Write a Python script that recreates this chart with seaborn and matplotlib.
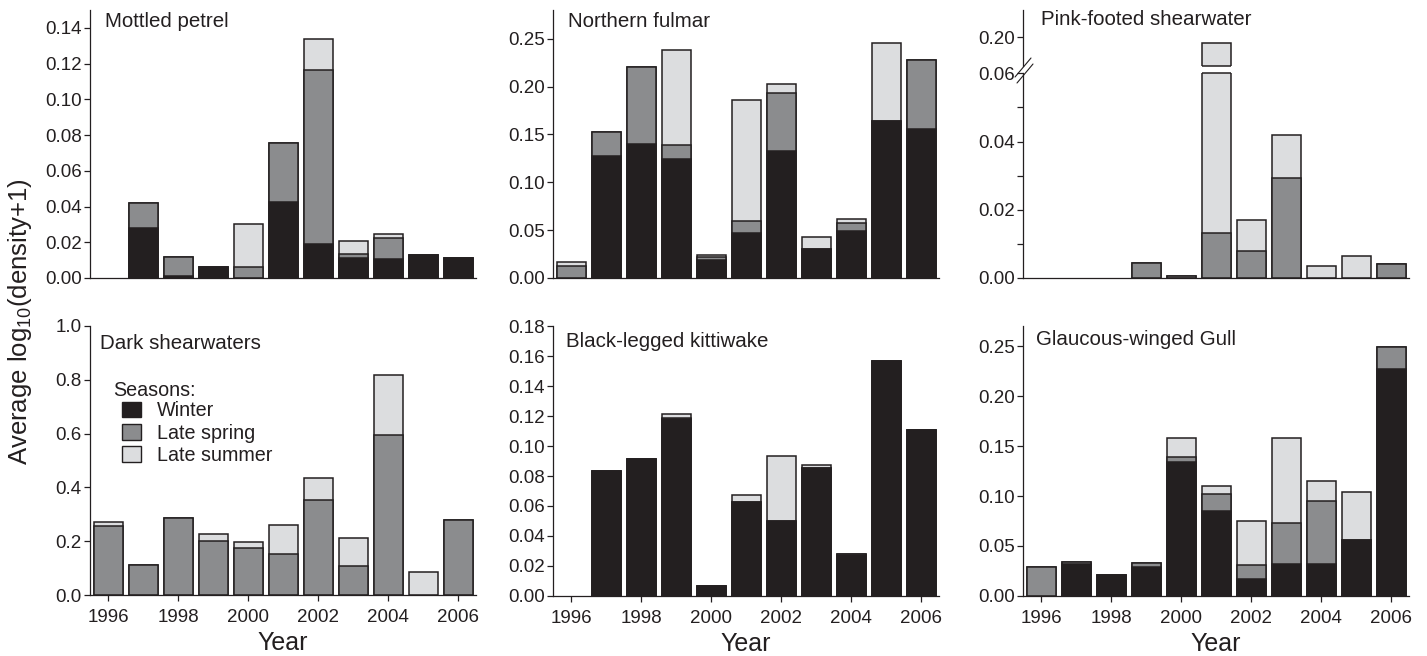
import numpy as np
import seaborn as sns
import matplotlib.pyplot as plt
from matplotlib.lines import Line2D
from matplotlib.patches import Patch

years = [1996, 1997, 1998, 1999, 2000, 2001, 2002, 2003, 2004, 2005, 2006]
year_labels = [str(y) for y in years]

mottled_winter = [0, 0.028, 0.0013, 0.0061, 0, 0.0425, 0.019, 0.011, 0.0104, 0.0127, 0.0112]
mottled_spring = [0, 0.014, 0.0105, 0, 0.0063, 0.033, 0.0974, 0.0026, 0.0119, 0, 0]
mottled_summer = [0, 0, 0, 0, 0.0242, 0, 0.0173, 0.0073, 0.0021, 0, 0]

fulmar_winter = [0, 0.127, 0.140, 0.124, 0.0187, 0.0467, 0.1329, 0.0308, 0.0491, 0.164, 0.156]
fulmar_spring = [0.0128, 0.026, 0.080, 0.015, 0.0031, 0.0132, 0.0601, 0, 0.0083, 0, 0.072]
fulmar_summer = [0.0035, 0, 0, 0.099, 0.0024, 0.1256, 0.010, 0.0125, 0.0045, 0.082, 0]

pink_winter = [0, 0, 0, 0, 0, 0, 0, 0, 0, 0, 0]
pink_spring = [0, 0, 0, 0.0044, 0.0007, 0.0132, 0.008, 0.0293, 0, 0, 0.0042]
pink_summer = [0, 0, 0, 0, 0, 0.185, 0.0089, 0.0127, 0.0035, 0.0065, 0]

dark_winter = [0, 0, 0, 0, 0, 0, 0, 0, 0, 0, 0]
dark_spring = [0.255, 0.112, 0.288, 0.202, 0.175, 0.154, 0.355, 0.106, 0.595, 0, 0.28]
dark_summer = [0.018, 0, 0, 0.025, 0.021, 0.108, 0.081, 0.105, 0.221, 0.085, 0]

kittiwake_winter = [0, 0.0831, 0.0911, 0.118, 0.0064, 0.0627, 0.0498, 0.0851, 0.0276, 0.157, 0.1107]
kittiwake_spring = [0, 0, 0, 0.001, 0, 0, 0, 0, 0.0006, 0, 0]
kittiwake_summer = [0, 0, 0, 0.0026, 0, 0.0049, 0.0433, 0.0022, 0, 0, 0]

gull_winter = [0, 0.032, 0.021, 0.0294, 0.134, 0.0849, 0.0167, 0.0321, 0.0318, 0.0565, 0.227]
gull_spring = [0.029, 0.0018, 0, 0.0034, 0.0047, 0.0174, 0.0144, 0.0414, 0.0628, 0, 0.022]
gull_summer = [0, 0, 0, 0, 0.0191, 0.0073, 0.0441, 0.0845, 0.0207, 0.0474, 0]

season_names = ['Winter', 'Late spring', 'Late summer']
season_colors = ['#231f20', '#8b8c8e', '#dcdddf']
ink = '#231f20'

sns.set_style('ticks')
plt.rcParams['font.family'] = ['Liberation Sans', 'DejaVu Sans']
plt.rcParams['mathtext.default'] = 'regular'
plt.rcParams['axes.edgecolor'] = ink
plt.rcParams['axes.linewidth'] = 0.9
plt.rcParams['xtick.color'] = ink
plt.rcParams['ytick.color'] = ink
plt.rcParams['text.color'] = ink
plt.rcParams['axes.labelcolor'] = ink

W, H = 1427, 656
fig = plt.figure(figsize=(W / 100, H / 100), dpi=100)


def px_axes(left, top, right, bottom):
    return fig.add_axes([left / W, 1 - bottom / H, (right - left) / W, (bottom - top) / H])


def draw_stack(ax, winter, spring, summer):
    w = np.array(winter)
    ws = w + np.array(spring)
    tot = ws + np.array(summer)
    # overlay cumulative bars, tallest first
    for vals, col in [(tot, season_colors[2]), (ws, season_colors[1]), (w, season_colors[0])]:
        sns.barplot(x=year_labels, y=vals, order=year_labels, color=col, saturation=1,
                    width=0.82, edgecolor=ink, linewidth=1.1, errorbar=None, ax=ax)
    # empty bars should leave no outline on the baseline
    for p in ax.patches:
        if p.get_height() == 0:
            p.set_visible(False)
    ax.set_xlim(-0.52, 10.51)
    sns.despine(ax=ax)
    ax.tick_params(axis='y', labelsize=13.5, length=4, width=0.9, pad=2)
    ax.set_xlabel('')
    ax.set_ylabel('')


def add_title(ax, text, dx, dy):
    ax.annotate(text, xy=(0, 1), xycoords='axes fraction', xytext=(dx, -dy),
                textcoords='offset pixels', ha='left', va='top', fontsize=14.8)


def bottom_row(ax):
    ax.set_xticks(range(0, 11, 2))
    ax.set_xticklabels(year_labels[::2])
    ax.tick_params(axis='x', labelsize=13.5, length=4, width=0.9, pad=6)
    ax.set_xlabel('Year', fontsize=18, labelpad=4)


def top_row(ax):
    ax.tick_params(axis='x', bottom=False, labelbottom=False)


lefts = [90, 553, 1023]
width = 386

# Mottled petrel
ax1 = px_axes(lefts[0], 10, lefts[0] + width, 278)
draw_stack(ax1, mottled_winter, mottled_spring, mottled_summer)
ax1.set_ylim(0, 0.15)
ax1.set_yticks(np.arange(0, 0.141, 0.02))
ax1.yaxis.set_major_formatter('{x:.2f}')
top_row(ax1)
add_title(ax1, 'Mottled petrel', 15, 2)

# Northern fulmar
ax2 = px_axes(lefts[1], 10, lefts[1] + width, 278)
draw_stack(ax2, fulmar_winter, fulmar_spring, fulmar_summer)
ax2.set_ylim(0, 0.28)
ax2.set_yticks(np.arange(0, 0.251, 0.05))
ax2.yaxis.set_major_formatter('{x:.2f}')
top_row(ax2)
add_title(ax2, 'Northern fulmar', 15, 2)

# Pink-footed shearwater, broken axis
ax3_hi = px_axes(lefts[2], 10, lefts[2] + width, 66)
ax3 = px_axes(lefts[2], 73, lefts[2] + width, 278)
draw_stack(ax3_hi, pink_winter, pink_spring, pink_summer)
draw_stack(ax3, pink_winter, pink_spring, pink_summer)
ax3_hi.set_ylim(0.1916, 0.208)
ax3_hi.set_yticks([0.20])
ax3_hi.yaxis.set_major_formatter('{x:.2f}')
ax3_hi.spines['bottom'].set_visible(False)
ax3_hi.tick_params(axis='x', bottom=False, labelbottom=False)
ax3.set_ylim(0, 0.0601)
ax3.set_yticks([0, 0.02, 0.04, 0.06])
ax3.set_yticks([0.01, 0.03, 0.05], minor=True)
ax3.tick_params(axis='y', which='minor', length=4, width=0.9)
ax3.yaxis.set_major_formatter('{x:.2f}')
top_row(ax3)
add_title(ax3_hi, 'Pink-footed shearwater', 18, 0)
# edges where the tall bar is cut by the break
lo_top = ax3.get_ylim()[1]
hi_bot = ax3_hi.get_ylim()[0]
for p in ax3.patches:
    if p.get_visible() and p.get_y() + p.get_height() > lo_top:
        ax3.hlines(lo_top, p.get_x(), p.get_x() + p.get_width(), color=ink, lw=1.1, clip_on=False)
for p in ax3_hi.patches:
    if p.get_visible() and p.get_y() + p.get_height() > hi_bot:
        ax3_hi.hlines(hi_bot, p.get_x(), p.get_x() + p.get_width(), color=ink, lw=1.1, clip_on=False)
for (x0, y0, x1, y1) in [(1015, 77, 1031, 58), (1017, 83, 1033, 64)]:
    fig.add_artist(Line2D([x0 / W, x1 / W], [1 - y0 / H, 1 - y1 / H],
                          transform=fig.transFigure, color=ink, lw=0.8))

# Dark shearwaters
ax4 = px_axes(lefts[0], 326, lefts[0] + width, 595)
draw_stack(ax4, dark_winter, dark_spring, dark_summer)
ax4.set_ylim(0, 1.0)
ax4.set_yticks(np.arange(0, 1.01, 0.2))
ax4.yaxis.set_major_formatter('{x:.1f}')
bottom_row(ax4)
add_title(ax4, 'Dark shearwaters', 10, 8)
handles = [Patch(facecolor=c, edgecolor=ink, linewidth=1.0) for c in season_colors]
ax4.text(0.06, 0.795, 'Seasons:', transform=ax4.transAxes, ha='left', va='top', fontsize=14.2)
ax4.legend(handles, season_names, loc='upper left', bbox_to_anchor=(0.082, 0.72),
           frameon=False, fontsize=14.2, borderpad=0, borderaxespad=0,
           handlelength=1.0, handleheight=0.85, handletextpad=0.8, labelspacing=0.17)

# Black-legged kittiwake
ax5 = px_axes(lefts[1], 326, lefts[1] + width, 596)
draw_stack(ax5, kittiwake_winter, kittiwake_spring, kittiwake_summer)
ax5.set_ylim(0, 0.18)
ax5.set_yticks(np.arange(0, 0.181, 0.02))
ax5.yaxis.set_major_formatter('{x:.2f}')
bottom_row(ax5)
add_title(ax5, 'Black-legged kittiwake', 13, 6)

# Glaucous-winged Gull
ax6 = px_axes(lefts[2], 326, lefts[2] + width, 596)
draw_stack(ax6, gull_winter, gull_spring, gull_summer)
ax6.set_ylim(0, 0.27)
ax6.set_yticks(np.arange(0, 0.251, 0.05))
ax6.yaxis.set_major_formatter('{x:.2f}')
bottom_row(ax6)
add_title(ax6, 'Glaucous-winged Gull', 13, 4)

fig.text(20 / W, 1 - 322 / H, 'Average log$_{10}$(density+1)', rotation=90,
         ha='center', va='center', fontsize=18.5)

fig.savefig('out.png', dpi=100)
